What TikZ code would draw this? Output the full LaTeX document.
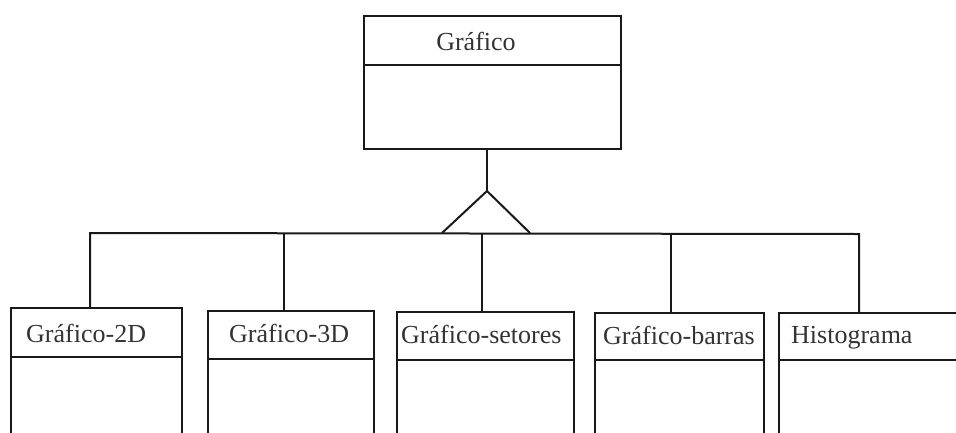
\documentclass[tikz,border=0pt]{standalone}
\usepackage{fontspec}
\setmainfont{Liberation Serif}
\begin{document}
\begin{tikzpicture}[x=1pt,y=-1pt,
  ink/.style={draw=black!90, line width=2pt},
  hdr/.style={ink, rectangle, inner sep=0pt, anchor=north west},
  lbl/.style={font=\fontsize{26}{28}\selectfont, text=black!80, inner sep=0pt},
  wire/.style={ink, line join=miter}]
\clip (0,0) rectangle (956,432);
% superclass
\node[hdr, minimum width=257pt, minimum height=49pt] (G) at (363,15) {};
\node[hdr, minimum width=257pt, minimum height=84pt] (Gb) at (363,64) {};
\node[lbl, anchor=base] (Gt) at (476,50) {Gráfico};
% subclasses: headers and bodies
\node[hdr, minimum width=171pt, minimum height=49pt] (C1) at (10,307) {};
\node[hdr, minimum width=171pt, minimum height=100pt] (C1b) at (10,356) {};
\node[hdr, minimum width=166pt, minimum height=48pt] (C2) at (207,310) {};
\node[hdr, minimum width=166pt, minimum height=100pt] (C2b) at (207,358) {};
\node[hdr, minimum width=177pt, minimum height=48pt] (C3) at (396,311) {};
\node[hdr, minimum width=177pt, minimum height=100pt] (C3b) at (396,359) {};
\node[hdr, minimum width=169pt, minimum height=47pt] (C4) at (594,312) {};
\node[hdr, minimum width=169pt, minimum height=100pt] (C4b) at (594,359) {};
\node[hdr, minimum width=200pt, minimum height=47pt] (C5) at (778,312) {};
\node[hdr, minimum width=200pt, minimum height=100pt] (C5b) at (778,359) {};
% labels
\node[lbl, anchor=base west] (C1t) at (26,342) {Gráfico-2D};
\node[lbl, anchor=base west] (C2t) at (229,342) {Gráfico-3D};
\node[lbl, anchor=base west] (C3t) at (401,343) {Gráfico-setores};
\node[lbl, anchor=base west] (C4t) at (603,344) {Gráfico-barras};
\node[lbl, anchor=base west] (C5t) at (791,343) {Histograma};
% generalization connector
\coordinate (apex) at (487,191);
\coordinate (tl) at (442,233);
\coordinate (tr) at (530,233);
\coordinate (b1) at (90,233);
\coordinate (b2) at (284,233);
\coordinate (b3) at (482,233);
\coordinate (b4) at (671,234);
\coordinate (b5) at (859,234);
\draw[wire] (Gb.south -| apex) -- (apex);
\draw[wire] (tl) -- (apex) -- (tr);
\draw[wire] (b1 |- C1.north) -- (b1) -- (b5) -- (b5 |- C5.north);
\draw[wire] (b2) -- (b2 |- C2.north);
\draw[wire] (b3) -- (b3 |- C3.north);
\draw[wire] (b4) -- (b4 |- C4.north);
\end{tikzpicture}
\end{document}
